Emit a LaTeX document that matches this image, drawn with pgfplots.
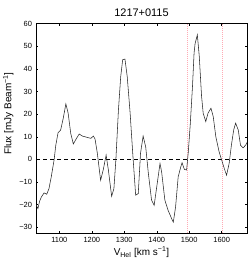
\documentclass[border=0pt]{standalone}
\usepackage{pgfplots}
\pgfplotsset{compat=1.18}
\usepackage{fontspec}
\setmainfont{Liberation Sans}
\definecolor{pinkline}{RGB}{255,170,180}
\begin{document}
\begin{tikzpicture}
\begin{axis}[
  name=ax,
  scale only axis,
  width=211bp, height=209.5bp,
  xmin=1028, xmax=1678, ymin=-32.5, ymax=60,
  xtick={1100,1200,1300,1400,1500,1600},
  xticklabels={1100,1200,1300,1400,1500,1600},
  ytick={-30,-20,-10,0,10,20,30,40,50,60},
  yticklabels={−30,−20,−10,0,10,20,30,40,50,60},
  tick align=inside,
  major tick length=2.2bp,
  tick style={black, line width=0.4pt},
  axis line style={black, line width=0.5pt},
  ticklabel style={font=\fontsize{7.5}{8}\selectfont},
  xticklabel style={yshift=-0.5bp},
  yticklabel style={xshift=-0.5bp},
  title={1217+0115},
  title style={font=\fontsize{11}{12}\selectfont, yshift=-2.5bp},
  xlabel={V\textsubscript{Hel} [km s\textsuperscript{−1}]},
  xlabel style={font=\fontsize{10}{11}\selectfont, yshift=2bp},
  ylabel={Flux [mJy Beam\textsuperscript{−1}]},
  ylabel style={font=\fontsize{10}{11}\selectfont, at={(ticklabel cs:0.57)}, yshift=-1bp},
  clip=true,
]
\addplot[pinkline, dash pattern=on 0.8bp off 1.2bp, line width=0.6pt] coordinates {(1494.7,-32.5) (1494.7,60)};
\addplot[pinkline, dash pattern=on 0.8bp off 1.2bp, line width=0.6pt] coordinates {(1601,-32.5) (1601,60)};
\addplot[black, dash pattern=on 4bp off 3bp, line width=0.5pt] coordinates {(1028,0) (1678,0)};
\addplot[black!85, line width=0.55pt] coordinates {
(1028,-20.0) (1030.5,-20.7) (1034,-21.7) (1039,-18.5) (1044.6,-16.6) (1053,-14.8) (1061,-15.4)
(1068,-12.9) (1075,-7.7) (1084,0) (1089,6.3) (1096,11.8) (1104,13) (1112,18.2)
(1120,24.5) (1127,20.4) (1135,11.5) (1143,6.8) (1150,8.6) (1161,11.2) (1171,10.3)
(1186,9.7) (1197,9.3) (1205,10.3) (1210,8.9) (1217,2.7) (1227,-9.2) (1235,-4.7)
(1244,1.9) (1251,-4.7) (1261,-16.3) (1268,-12.9) (1274,-0.3) (1282,21.9) (1289,36.6)
(1295,44) (1302,44.3) (1309,36.6) (1318,20.4) (1326,2.7) (1335,-15.8) (1343,-15.1)
(1350,2.7) (1358,10.3) (1366,5.5) (1374,-6) (1384,-18) (1392,-20.3) (1400,-12.1)
(1410,-1.8) (1415,-5.5) (1425,-18) (1435,-22.5) (1446,-26.2) (1451,-27.7) (1458,-21)
(1466,-7.7) (1474,-3.3) (1478,-1.5) (1485,-4.4) (1492,-4.7) (1497,3) (1503,15)
(1510,32) (1515,47) (1518,51) (1525,55) (1531,45.5) (1538,28) (1543,20.4)
(1551,16.7) (1558,20.4) (1567,22.6) (1574,18.9) (1582,10) (1592,3.4) (1600,-0.3)
(1608,-4) (1615,-7) (1623,-1.8) (1630,6.3) (1637,13) (1643,16) (1651,13)
(1658,6.3) (1666,5.1) (1674,6.3) (1678,7.5)
};
\end{axis}
\pgfresetboundingbox
\path[use as bounding box] ([xshift=-36bp,yshift=-32bp]ax.south west) rectangle ([xshift=2bp,yshift=23.5bp]ax.north east);
\end{tikzpicture}
\end{document}
